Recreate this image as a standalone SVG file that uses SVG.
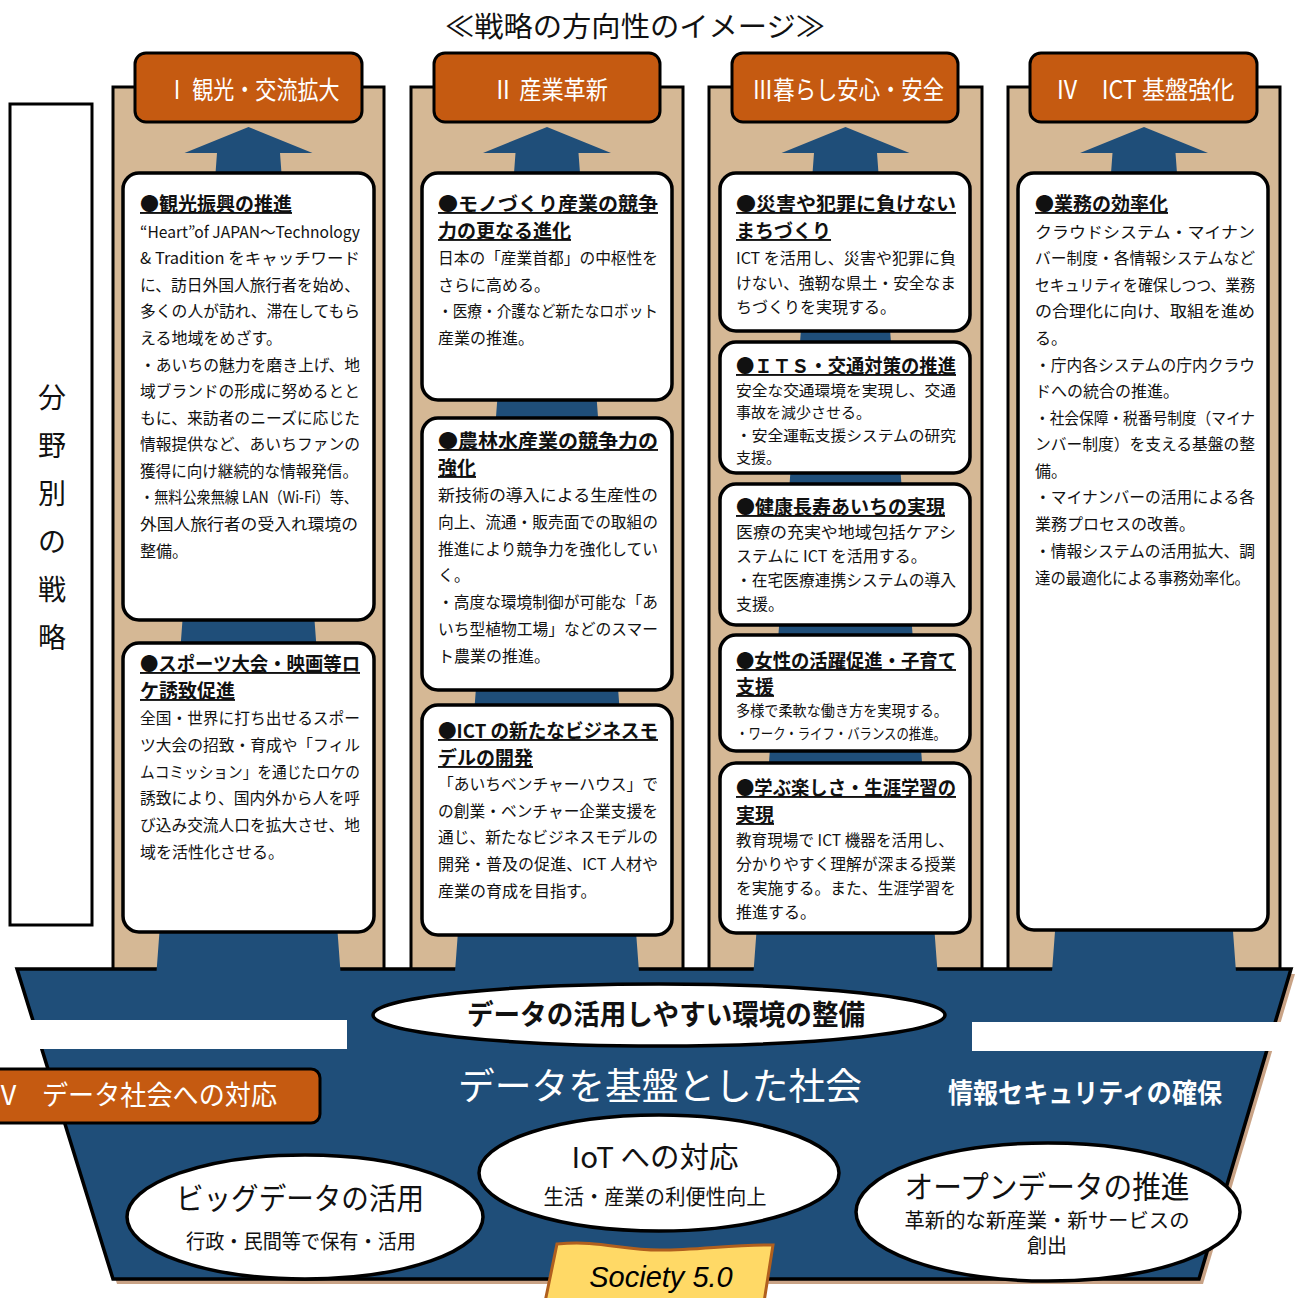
<svg xmlns="http://www.w3.org/2000/svg" width="1298" height="1298" viewBox="0 0 1298 1298">
<style>
.col{fill:#D5B895;stroke:#000;stroke-width:3}
.hdr{fill:#C55A11;stroke:#000;stroke-width:3}
.arr{fill:#1F4E79}
.box{fill:#fff;stroke:#000;stroke-width:3.5}
.ell{fill:#fff;stroke:#000;stroke-width:3.5}
text{font-family:"Noto Sans CJK JP","Noto Sans CJK SC",sans-serif;fill:#111}
text.soc{font-family:"Liberation Sans",Arial,sans-serif;font-style:italic;fill:#000}
.ht{font-size:25px;fill:#fff}
.ti{font-size:19px;font-weight:700;text-decoration:underline}
.b{font-size:16px}
.b15{font-size:15px}
.w{fill:#fff}
</style>
<rect width="1298" height="1298" fill="#fff"/>

<text x="635" y="37" font-size="28" text-anchor="middle" textLength="380" lengthAdjust="spacingAndGlyphs" fill="#222">≪戦略の方向性のイメージ≫</text>

<g id="side-label">
<rect x="10" y="104" width="82" height="821" fill="#fff" stroke="#000" stroke-width="3"/>
<g font-size="28" text-anchor="middle">
<text x="52" y="408">分</text><text x="52" y="456">野</text><text x="52" y="504">別</text><text x="52" y="552">の</text><text x="52" y="600">戦</text><text x="52" y="648">略</text>
</g>
</g>

<g id="columns">
<rect class="col" x="113" y="87" width="271" height="895"/>
<rect class="col" x="411" y="87" width="272" height="895"/>
<rect class="col" x="709" y="87" width="273" height="895"/>
<rect class="col" x="1008" y="87" width="272" height="895"/>
</g>

<g id="base">
<polygon points="21,974 1295,974 1203,1284 117,1284" fill="#C9A386"/>
<polygon points="17,969 1291,969 1199,1279 113,1279" fill="#1F4E79" stroke="#000" stroke-width="3.5" stroke-linejoin="miter"/>
<rect x="0" y="1020" width="347" height="29" fill="#fff"/>
<rect x="972" y="1022" width="326" height="29" fill="#fff"/>
</g>

<g id="connectors">
<polygon class="arr" points="248.5,127 312.5,153 280,153 340.5,972 156.5,972 217,153 184.5,153"/>
<polygon class="arr" points="547,127 611,153 578.5,153 639,972 455,972 515.5,153 483,153"/>
<polygon class="arr" points="845.5,127 909.5,153 877,153 937.5,972 753.5,972 814,153 781.5,153"/>
<polygon class="arr" points="1144,127 1208,153 1175.5,153 1236,972 1052,972 1112.5,153 1080,153"/>
</g>

<g id="header1"><rect class="hdr" x="135" y="53" width="227" height="69" rx="11"/><text class="ht" x="253" y="99" text-anchor="middle" textLength="173" lengthAdjust="spacingAndGlyphs">Ⅰ 観光・交流拡大</text></g>
<g id="header2"><rect class="hdr" x="434" y="53" width="226" height="69" rx="11"/><text class="ht" x="550" y="99" text-anchor="middle" textLength="116" lengthAdjust="spacingAndGlyphs">Ⅱ 産業革新</text></g>
<g id="header3"><rect class="hdr" x="732" y="53" width="226" height="69" rx="11"/><text class="ht" x="848" y="99" text-anchor="middle" textLength="192" lengthAdjust="spacingAndGlyphs">Ⅲ暮らし安心・安全</text></g>
<g id="header4"><rect class="hdr" x="1030" y="53" width="227" height="69" rx="11"/><text class="ht" x="1145" y="99" text-anchor="middle" textLength="179" lengthAdjust="spacingAndGlyphs">Ⅳ　ICT 基盤強化</text></g>

<g id="box-1-1">
<rect class="box" x="123" y="173" width="251" height="447" rx="16"/>
<text class="ti" x="140" y="211">●観光振興の推進</text>
<g class="b">
<text x="140" y="238" textLength="220" lengthAdjust="spacingAndGlyphs">“Heart”of JAPAN～Technology</text>
<text x="140" y="264" textLength="220" lengthAdjust="spacingAndGlyphs">&amp; Tradition をキャッチワード</text>
<text x="140" y="291" textLength="220" lengthAdjust="spacingAndGlyphs">に、訪日外国人旅行者を始め、</text>
<text x="140" y="317" textLength="220" lengthAdjust="spacingAndGlyphs">多くの人が訪れ、滞在してもら</text>
<text x="140" y="344">える地域をめざす。</text>
<text x="140" y="371" textLength="220" lengthAdjust="spacingAndGlyphs">・あいちの魅力を磨き上げ、地</text>
<text x="140" y="397" textLength="220" lengthAdjust="spacingAndGlyphs">域ブランドの形成に努めるとと</text>
<text x="140" y="424" textLength="220" lengthAdjust="spacingAndGlyphs">もに、来訪者のニーズに応じた</text>
<text x="140" y="450" textLength="220" lengthAdjust="spacingAndGlyphs">情報提供など、あいちファンの</text>
<text x="140" y="477" textLength="218" lengthAdjust="spacingAndGlyphs">獲得に向け継続的な情報発信。</text>
<text x="140" y="503" textLength="218" lengthAdjust="spacingAndGlyphs">・無料公衆無線 LAN（Wi-Fi）等、</text>
<text x="140" y="530" textLength="218" lengthAdjust="spacingAndGlyphs">外国人旅行者の受入れ環境の</text>
<text x="140" y="557">整備。</text>
</g>
</g>

<g id="box-1-2">
<rect class="box" x="123" y="643" width="251" height="289" rx="16"/>
<text class="ti" x="140" y="671" textLength="220" lengthAdjust="spacingAndGlyphs">●スポーツ大会・映画等ロ</text>
<text class="ti" x="140" y="698">ケ誘致促進</text>
<g class="b">
<text x="140" y="724" textLength="220" lengthAdjust="spacingAndGlyphs">全国・世界に打ち出せるスポー</text>
<text x="140" y="751" textLength="220" lengthAdjust="spacingAndGlyphs">ツ大会の招致・育成や「フィル</text>
<text x="140" y="778" textLength="220" lengthAdjust="spacingAndGlyphs">ムコミッション」を通じたロケの</text>
<text x="140" y="804" textLength="220" lengthAdjust="spacingAndGlyphs">誘致により、国内外から人を呼</text>
<text x="140" y="831" textLength="220" lengthAdjust="spacingAndGlyphs">び込み交流人口を拡大させ、地</text>
<text x="140" y="858">域を活性化させる。</text>
</g>
</g>

<g id="box-2-1">
<rect class="box" x="422" y="173" width="250" height="227" rx="16"/>
<text class="ti" x="438" y="211" textLength="220" lengthAdjust="spacingAndGlyphs">●モノづくり産業の競争</text>
<text class="ti" x="438" y="238">力の更なる進化</text>
<g class="b">
<text x="438" y="264" textLength="220" lengthAdjust="spacingAndGlyphs">日本の「産業首都」の中枢性を</text>
<text x="438" y="291">さらに高める。</text>
<text x="438" y="317" textLength="220" lengthAdjust="spacingAndGlyphs">・医療・介護など新たなロボット</text>
<text x="438" y="344">産業の推進。</text>
</g>
</g>

<g id="box-2-2">
<rect class="box" x="422" y="418" width="250" height="272" rx="16"/>
<text class="ti" x="438" y="448" textLength="220" lengthAdjust="spacingAndGlyphs">●農林水産業の競争力の</text>
<text class="ti" x="438" y="475">強化</text>
<g class="b">
<text x="438" y="501" textLength="220" lengthAdjust="spacingAndGlyphs">新技術の導入による生産性の</text>
<text x="438" y="528" textLength="220" lengthAdjust="spacingAndGlyphs">向上、流通・販売面での取組の</text>
<text x="438" y="555" textLength="220" lengthAdjust="spacingAndGlyphs">推進により競争力を強化してい</text>
<text x="438" y="581">く。</text>
<text x="438" y="608" textLength="220" lengthAdjust="spacingAndGlyphs">・高度な環境制御が可能な「あ</text>
<text x="438" y="635" textLength="220" lengthAdjust="spacingAndGlyphs">いち型植物工場」などのスマー</text>
<text x="438" y="662">ト農業の推進。</text>
</g>
</g>

<g id="box-2-3">
<rect class="box" x="422" y="705" width="250" height="230" rx="16"/>
<text class="ti" x="438" y="738" textLength="220" lengthAdjust="spacingAndGlyphs">●ICT の新たなビジネスモ</text>
<text class="ti" x="438" y="765">デルの開発</text>
<g class="b">
<text x="438" y="790" textLength="220" lengthAdjust="spacingAndGlyphs">「あいちベンチャーハウス」で</text>
<text x="438" y="817" textLength="220" lengthAdjust="spacingAndGlyphs">の創業・ベンチャー企業支援を</text>
<text x="438" y="843" textLength="220" lengthAdjust="spacingAndGlyphs">通じ、新たなビジネスモデルの</text>
<text x="438" y="870" textLength="220" lengthAdjust="spacingAndGlyphs">開発・普及の促進、ICT 人材や</text>
<text x="438" y="897">産業の育成を目指す。</text>
</g>
</g>

<g id="box-3-1">
<rect class="box" x="720" y="173" width="250" height="158" rx="16"/>
<text class="ti" x="736" y="211" textLength="220" lengthAdjust="spacingAndGlyphs">●災害や犯罪に負けない</text>
<text class="ti" x="736" y="238">まちづくり</text>
<g class="b">
<text x="736" y="264" textLength="220" lengthAdjust="spacingAndGlyphs">ICT を活用し、災害や犯罪に負</text>
<text x="736" y="289" textLength="220" lengthAdjust="spacingAndGlyphs">けない、強靭な県土・安全なま</text>
<text x="736" y="313">ちづくりを実現する。</text>
</g>
</g>

<g id="box-3-2">
<rect class="box" x="720" y="342" width="250" height="131" rx="16"/>
<text class="ti" x="736" y="373" textLength="220" lengthAdjust="spacingAndGlyphs">●ＩＴＳ・交通対策の推進</text>
<g class="b15">
<text x="736" y="396" textLength="220" lengthAdjust="spacingAndGlyphs">安全な交通環境を実現し、交通</text>
<text x="736" y="418">事故を減少させる。</text>
<text x="736" y="441" textLength="220" lengthAdjust="spacingAndGlyphs">・安全運転支援システムの研究</text>
<text x="736" y="463">支援。</text>
</g>
</g>

<g id="box-3-3">
<rect class="box" x="720" y="484" width="250" height="141" rx="16"/>
<text class="ti" x="736" y="514">●健康長寿あいちの実現</text>
<g class="b">
<text x="736" y="538" textLength="220" lengthAdjust="spacingAndGlyphs">医療の充実や地域包括ケアシ</text>
<text x="736" y="562">ステムに ICT を活用する。</text>
<text x="736" y="586" textLength="220" lengthAdjust="spacingAndGlyphs">・在宅医療連携システムの導入</text>
<text x="736" y="610">支援。</text>
</g>
</g>

<g id="box-3-4">
<rect class="box" x="720" y="635" width="250" height="116" rx="16"/>
<text class="ti" x="736" y="668" textLength="220" lengthAdjust="spacingAndGlyphs">●女性の活躍促進・子育て</text>
<text class="ti" x="736" y="694">支援</text>
<g class="b15">
<text x="736" y="716" textLength="212" lengthAdjust="spacingAndGlyphs">多様で柔軟な働き方を実現する。</text>
<text x="736" y="739" textLength="210" lengthAdjust="spacingAndGlyphs">・ワーク・ライフ・バランスの推進。</text>
</g>
</g>

<g id="box-3-5">
<rect class="box" x="720" y="763" width="250" height="170" rx="16"/>
<text class="ti" x="736" y="795" textLength="220" lengthAdjust="spacingAndGlyphs">●学ぶ楽しさ・生涯学習の</text>
<text class="ti" x="736" y="822">実現</text>
<g class="b">
<text x="736" y="846" textLength="218" lengthAdjust="spacingAndGlyphs">教育現場で ICT 機器を活用し、</text>
<text x="736" y="870" textLength="220" lengthAdjust="spacingAndGlyphs">分かりやすく理解が深まる授業</text>
<text x="736" y="894" textLength="220" lengthAdjust="spacingAndGlyphs">を実施する。また、生涯学習を</text>
<text x="736" y="918">推進する。</text>
</g>
</g>

<g id="box-4-1">
<rect class="box" x="1018" y="173" width="250" height="757" rx="16"/>
<text class="ti" x="1035" y="211">●業務の効率化</text>
<g class="b">
<text x="1035" y="238" textLength="220" lengthAdjust="spacingAndGlyphs">クラウドシステム・マイナン</text>
<text x="1035" y="264" textLength="220" lengthAdjust="spacingAndGlyphs">バー制度・各情報システムなど</text>
<text x="1035" y="291" textLength="220" lengthAdjust="spacingAndGlyphs">セキュリティを確保しつつ、業務</text>
<text x="1035" y="317" textLength="220" lengthAdjust="spacingAndGlyphs">の合理化に向け、取組を進め</text>
<text x="1035" y="344">る。</text>
<text x="1035" y="371" textLength="220" lengthAdjust="spacingAndGlyphs">・庁内各システムの庁内クラウ</text>
<text x="1035" y="397">ドへの統合の推進。</text>
<text x="1035" y="424" textLength="220" lengthAdjust="spacingAndGlyphs">・社会保障・税番号制度（マイナ</text>
<text x="1035" y="450" textLength="220" lengthAdjust="spacingAndGlyphs">ンバー制度）を支える基盤の整</text>
<text x="1035" y="477">備。</text>
<text x="1035" y="503" textLength="220" lengthAdjust="spacingAndGlyphs">・マイナンバーの活用による各</text>
<text x="1035" y="530">業務プロセスの改善。</text>
<text x="1035" y="557" textLength="220" lengthAdjust="spacingAndGlyphs">・情報システムの活用拡大、調</text>
<text x="1035" y="584" textLength="215" lengthAdjust="spacingAndGlyphs">達の最適化による事務効率化。</text>
</g>
</g>

<g id="data-env">
<ellipse class="ell" cx="659" cy="1015" rx="286" ry="31"/>
<text x="666" y="1025" font-size="28" font-weight="700" text-anchor="middle" textLength="398" lengthAdjust="spacingAndGlyphs">データの活用しやすい環境の整備</text>
</g>

<g id="society-label">
<text class="w" x="660" y="1100" font-size="37" text-anchor="middle" textLength="404" lengthAdjust="spacingAndGlyphs">データを基盤とした社会</text>
</g>

<g id="security">
<text class="w" x="948" y="1103" font-size="27" font-weight="700" textLength="274" lengthAdjust="spacingAndGlyphs">情報セキュリティの確保</text>
</g>

<g id="header5">
<rect class="hdr" x="-10" y="1069" width="330" height="54" rx="9"/>
<text class="w" x="-5" y="1105" font-size="27">Ⅴ</text>
<text class="w" x="42" y="1105" font-size="27" textLength="235" lengthAdjust="spacingAndGlyphs">データ社会への対応</text>
</g>

<g id="bigdata">
<ellipse class="ell" cx="305" cy="1217" rx="178" ry="62"/>
<text x="300" y="1209" font-size="30" text-anchor="middle" textLength="248" lengthAdjust="spacingAndGlyphs">ビッグデータの活用</text>
<text x="301" y="1249" font-size="20" text-anchor="middle" textLength="230" lengthAdjust="spacingAndGlyphs">行政・民間等で保有・活用</text>
</g>

<g id="iot">
<ellipse class="ell" cx="659" cy="1173" rx="180" ry="58"/>
<text x="655" y="1168" font-size="29" text-anchor="middle" textLength="167" lengthAdjust="spacingAndGlyphs">IoT への対応</text>
<text x="655" y="1204" font-size="21" text-anchor="middle" textLength="223" lengthAdjust="spacingAndGlyphs">生活・産業の利便性向上</text>
</g>

<g id="opendata">
<ellipse class="ell" cx="1048" cy="1212" rx="192" ry="69"/>
<text x="1047" y="1198" font-size="31" text-anchor="middle" textLength="285" lengthAdjust="spacingAndGlyphs">オープンデータの推進</text>
<text x="1047" y="1228" font-size="20" text-anchor="middle" textLength="285" lengthAdjust="spacingAndGlyphs">革新的な新産業・新サービスの</text>
<text x="1047" y="1253" font-size="20" text-anchor="middle">創出</text>
</g>

<g id="society50">
<path d="M557,1244 C600,1240 620,1250 660,1250 C700,1250 735,1244 773,1245 L764,1302 L545,1302 Z" fill="#FFD966" stroke="#B05F1E" stroke-width="3"/>
<text class="soc" x="661" y="1287" font-size="29" text-anchor="middle">Society 5.0</text>
</g>
</svg>
